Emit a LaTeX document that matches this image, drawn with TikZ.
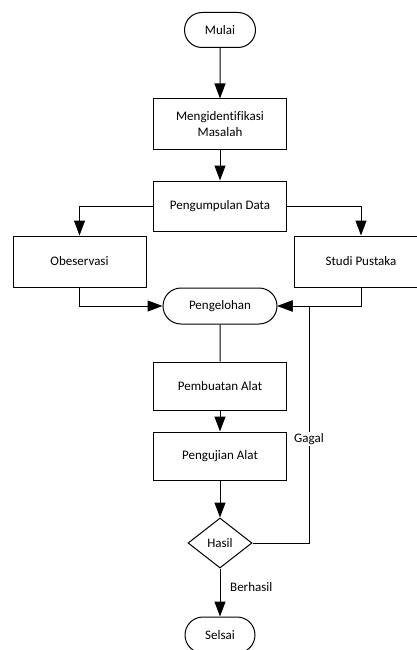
\documentclass[tikz,border=0pt]{standalone}
\usepackage{fontspec}
\setmainfont[Ligatures=NoCommon]{Carlito}
\usetikzlibrary{shapes.misc,shapes.geometric,arrows.meta}
\begin{document}
\begin{tikzpicture}[x=1pt,y=-1pt,
  every node/.style={font=\fontsize{13}{16.5}\selectfont},
  base/.style={draw=black,line width=1pt,fill=white,inner sep=2pt},
  term/.style={base,rounded rectangle,minimum height=36pt},
  proc/.style={base,rectangle,minimum width=133pt,align=center},
  dec/.style={base,diamond,minimum width=64pt,minimum height=50pt,inner sep=0pt},
  conn/.style={line width=1pt,draw=black},
  arr/.style={conn,-{Triangle[length=15pt,width=11pt]}},
  lbl/.style={fill=white,inner sep=1pt}]
\useasboundingbox (0,0) rectangle (417,650);
\clip (0,0) rectangle (417,650);
\node[term,minimum width=75pt,minimum height=35pt] (mulai) at (220,30) {Mulai};
\node[proc,minimum height=50pt] (ident) at (220,124) {Mengidentifikasi\\Masalah};
\node[proc,minimum height=50pt] (kumpul) at (220,206) {Pengumpulan Data};
\node[proc,minimum height=51pt] (obs) at (79.5,261.5) {Obeservasi};
\node[proc,minimum height=51pt] (studi) at (361,261.5) {Studi Pustaka};
\node[term,minimum width=118pt] (olah) at (220,306) {Pengelohan};
\node[proc,minimum height=48pt] (buat) at (220,386) {Pembuatan Alat};
\node[proc,minimum height=48pt] (uji) at (220,456) {Pengujian Alat};
\node[dec] (hasil) at (220,543) {Hasil};
\node[term,minimum width=74pt] (selsai) at (220,635) {Selsai};
\coordinate (g) at (309,306);

\draw[arr] (mulai) -- (ident);
\draw[arr] (ident) -- (kumpul);
\draw[arr] (kumpul.west) -| (obs.north);
\draw[arr] (kumpul.east) -| (studi.north);
\draw[arr] (obs.south) |- (olah.west);
\draw[arr] (studi.south) |- (olah.east);
\draw[conn] (olah) -- (buat);
\draw[arr] (buat) -- (uji);
\draw[arr] (uji) -- (hasil);
\draw[arr] (hasil.east) -| (g) -- (olah.east);
\draw[arr] (hasil) -- (selsai);
\node[lbl] (gagal) at (309,439) {Gagal};
\node[anchor=west,inner sep=0pt] (berhasil) at (230,587) {Berhasil};
\end{tikzpicture}
\end{document}
